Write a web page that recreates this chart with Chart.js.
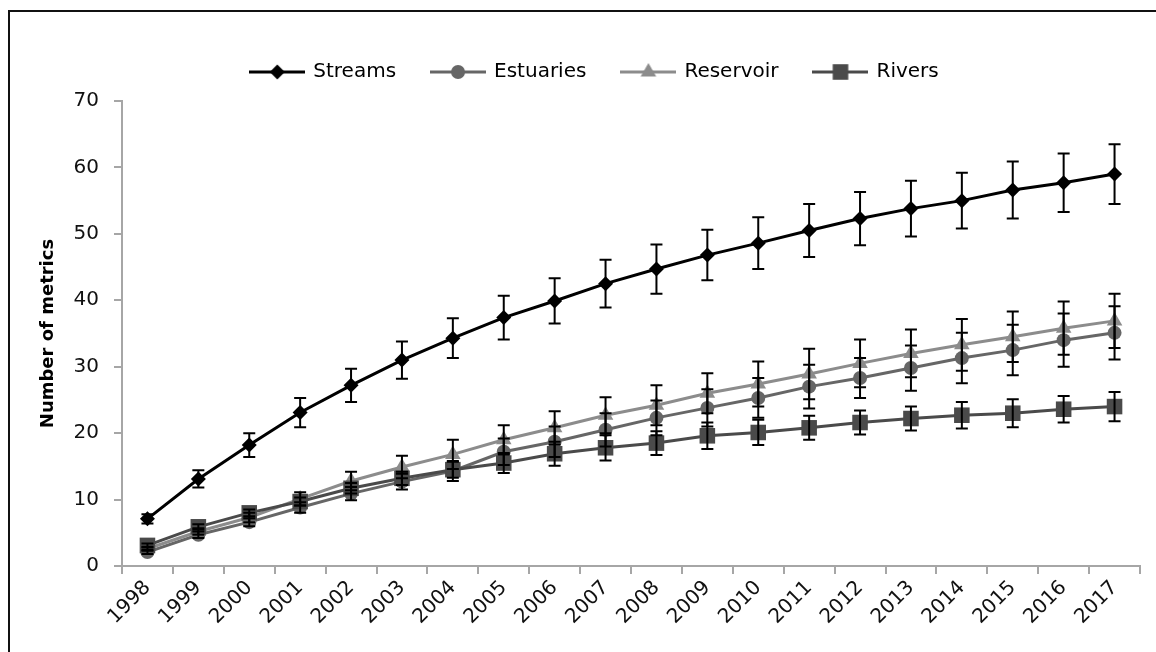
<!DOCTYPE html>
<html>
<head>
<meta charset="utf-8">
<script src="https://cdn.jsdelivr.net/npm/chart.js@4/dist/chart.umd.min.js"></script>
<style>
  html, body { margin: 0; padding: 0; background: #fff; }
  #wrap { position: relative; width: 1156px; height: 652px; overflow: hidden; }
  #frame { position: absolute; left: 8px; top: 10px; width: 1300px; height: 800px;
           border-left: 2px solid #111; border-top: 2px solid #111; box-sizing: border-box; }
  #chart { position: absolute; left: 0; top: 0; }
</style>
</head>
<body>
<div id="wrap">
  <div id="frame"></div>
  <canvas id="chart" width="1156" height="652"></canvas>
</div>
<script>
var years = ["1998","1999","2000","2001","2002","2003","2004","2005","2006","2007",
             "2008","2009","2010","2011","2012","2013","2014","2015","2016","2017"];

var streams     = [7.1, 13.1, 18.2, 23.1, 27.2, 31.0, 34.3, 37.4, 39.9, 42.5, 44.7, 46.8, 48.6, 50.5, 52.3, 53.8, 55.0, 56.6, 57.7, 59.0];
var streamsErr  = [0.7, 1.3, 1.8, 2.2, 2.5, 2.8, 3.0, 3.3, 3.4, 3.6, 3.7, 3.8, 3.9, 4.0, 4.0, 4.2, 4.2, 4.3, 4.4, 4.5];
var estuaries   = [2.1, 4.7, 6.6, 8.8, 10.9, 12.7, 14.3, 17.2, 18.7, 20.5, 22.3, 23.8, 25.3, 27.0, 28.3, 29.8, 31.3, 32.5, 34.0, 35.1];
var estuariesErr= [0.3, 0.5, 0.6, 0.8, 1.0, 1.2, 1.5, 2.0, 2.3, 2.5, 2.6, 2.8, 3.0, 3.3, 3.0, 3.4, 3.8, 3.8, 4.0, 4.0];
var reservoir   = [2.6, 5.2, 7.3, 10.1, 12.8, 14.9, 16.8, 19.0, 20.8, 22.7, 24.2, 26.0, 27.4, 28.9, 30.5, 32.0, 33.3, 34.5, 35.8, 36.9];
var reservoirErr= [0.3, 0.5, 0.7, 1.0, 1.4, 1.7, 2.2, 2.2, 2.5, 2.7, 3.0, 3.0, 3.4, 3.8, 3.6, 3.6, 3.9, 3.8, 4.0, 4.1];
var rivers      = [3.1, 5.9, 8.0, 9.7, 11.7, 13.2, 14.5, 15.5, 16.9, 17.8, 18.5, 19.6, 20.1, 20.8, 21.6, 22.2, 22.7, 23.0, 23.6, 24.0];
var riversErr   = [0.3, 0.4, 0.5, 0.6, 0.8, 1.0, 1.2, 1.5, 1.8, 1.9, 1.8, 2.0, 1.9, 1.8, 1.8, 1.8, 2.0, 2.1, 2.0, 2.2];
var yTicks = [0, 10, 20, 30, 40, 50, 60, 70];

var FONT = "'DejaVu Sans', Verdana, sans-serif";

function series(label, data, errs, color, style, radius, order) {
    return {
        label: label,
        data: data,
        errors: errs,
        borderColor: color,
        backgroundColor: color,
        borderWidth: 3,
        pointStyle: style,
        pointRadius: radius,
        pointBorderWidth: 0,
        pointBackgroundColor: color,
        tension: 0,
        order: order
    };
}

var datasets = [
    series("Streams",   streams,   streamsErr,   "#000000", "rectRot",  7.5, 3),
    series("Estuaries", estuaries, estuariesErr, "#666666", "circle",   7,   2),
    series("Reservoir", reservoir, reservoirErr, "#8c8c8c", "triangle", 9,   1),
    series("Rivers",    rivers,    riversErr,    "#4a4a4a", "rect",     11,  0)
];

// legend symbol: short line with the marker in the middle
function legendSymbol(ds) {
    var c = document.createElement("canvas");
    c.width = 56; c.height = 22;
    var g = c.getContext("2d");
    g.strokeStyle = ds.borderColor;
    g.lineWidth = 3;
    g.beginPath(); g.moveTo(0, 11); g.lineTo(56, 11); g.stroke();
    g.fillStyle = ds.borderColor;
    Chart.helpers.drawPoint(g, {pointStyle: ds.pointStyle, radius: ds.pointRadius, rotation: 0, borderWidth: 0}, 28, 11);
    return c;
}

var errorBars = {
    id: "errorBars",
    afterDatasetsDraw: function(chart) {
        var ctx = chart.ctx, y = chart.scales.y;
        ctx.save();
        ctx.strokeStyle = "#000";
        ctx.lineWidth = 2;
        for (var i = chart.data.datasets.length - 1; i >= 0; i--) {
            var ds = chart.data.datasets[i];
            var meta = chart.getDatasetMeta(i);
            meta.data.forEach(function(pt, j) {
                var top = y.getPixelForValue(ds.data[j] + ds.errors[j]);
                var bot = y.getPixelForValue(ds.data[j] - ds.errors[j]);
                ctx.beginPath();
                ctx.moveTo(pt.x, top); ctx.lineTo(pt.x, bot);
                ctx.moveTo(pt.x - 6, top); ctx.lineTo(pt.x + 6, top);
                ctx.moveTo(pt.x - 6, bot); ctx.lineTo(pt.x + 6, bot);
                ctx.stroke();
            });
        }
        ctx.restore();
    }
};

// fixed legend height, and nudge it a little to the right
var fixLegend = {
    id: "fixLegend",
    beforeInit: function(chart) {
        var lg = chart.legend;
        var fit = lg.fit, draw = lg.draw;
        lg.fit = function() {
            fit.bind(lg)();
            this.height = 75;
        };
        lg.draw = function() {
            chart.ctx.save();
            chart.ctx.translate(6, 0);
            draw.bind(lg)();
            chart.ctx.restore();
        };
    }
};

new Chart(document.getElementById("chart"), {
    type: "line",
    data: { labels: years, datasets: datasets },
    plugins: [errorBars, fixLegend],
    options: {
        responsive: false,
        animation: false,
        layout: { padding: { left: 38, right: 16, top: 26, bottom: 0 } },
        plugins: {
            tooltip: { enabled: false },
            legend: {
                position: "top",
                labels: {
                    font: { family: FONT, size: 20 },
                    color: "#111",
                    usePointStyle: true,
                    pointStyleWidth: 52,
                    padding: 36,
                    generateLabels: function(chart) {
                        return chart.data.datasets.map(function(ds, i) {
                            return {
                                text: ds.label,
                                pointStyle: legendSymbol(ds),
                                fillStyle: ds.borderColor,
                                strokeStyle: ds.borderColor,
                                lineWidth: 0,
                                datasetIndex: i
                            };
                        });
                    }
                }
            }
        },
        scales: {
            x: {
                offset: true,
                grid: { display: true, drawOnChartArea: false, offset: true, color: "#a6a6a6", tickLength: 8, lineWidth: 2 },
                border: { color: "#a6a6a6", width: 2 },
                ticks: { font: { family: FONT, size: 20 }, color: "#111", minRotation: 45, maxRotation: 45, autoSkip: false, padding: 2 },
                afterFit: function(s) { s.height = 86; }
            },
            y: {
                min: 0, max: 70,
                afterBuildTicks: function(s) { s.ticks = yTicks.map(function(v) { return {value: v}; }); },
                grid: { display: true, drawOnChartArea: false, color: "#a6a6a6", tickLength: 8, lineWidth: 2 },
                border: { color: "#a6a6a6", width: 2 },
                ticks: { font: { family: FONT, size: 20 }, color: "#111", padding: 15 },
                title: { display: true, text: "Number of metrics", color: "#000",
                         font: { family: FONT, size: 18, weight: "bold" }, padding: 0 },
                afterFit: function(s) { s.width = 84; }
            }
        }
    }
});
</script>
</body>
</html>
